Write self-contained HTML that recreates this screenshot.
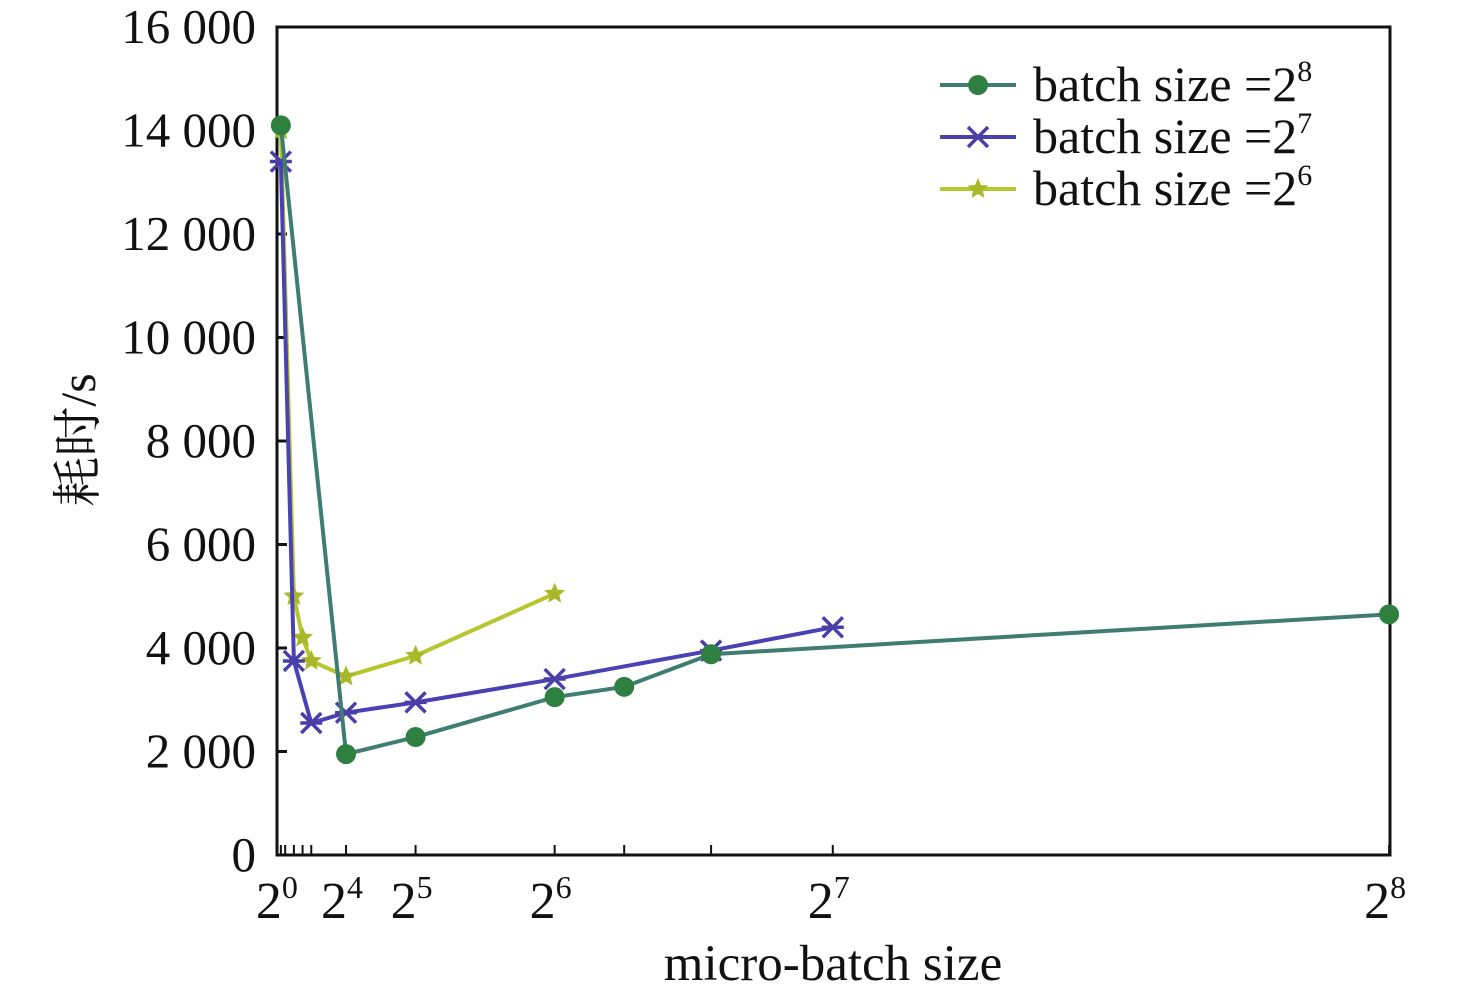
<!DOCTYPE html>
<html><head><meta charset="utf-8"><style>
body{margin:0;background:#fff;}
svg text{font-family:"Liberation Serif","Noto Serif CJK SC",serif;fill:#111;}
</style></head><body>
<svg id="c" width="1476" height="999" xmlns="http://www.w3.org/2000/svg"></svg>
<script>
const xTicks=[1,2,4,6,8,16,32,64,80,100,128,256];
const xLabelVals=[1,16,32,64,128,256];
const xLabelExp=[0,4,5,6,7,8];
const yTicks=[0,2000,4000,6000,8000,10000,12000,14000,16000];
const yTickLabels=["0","2 000","4 000","6 000","8 000","10 000","12 000","14 000","16 000"];
const x256=[1,16,32,64,80,100,256];
const y256=[14100,1950,2280,3050,3250,3880,4650];
const x128=[1,4,8,16,32,64,100,128];
const y128=[13400,3750,2550,2750,2950,3400,3950,4400];
const x64=[1,4,6,8,16,32,64];
const y64=[14000,5000,4200,3750,3450,3850,5050];

const L=277,R=1390,T=27,B=855;
const sx=v=>276.5+v*4.346;
const sy=v=>B-(v/16000)*(B-T);
const svg=document.getElementById('c');
const NS='http://www.w3.org/2000/svg';
function mk(tag,attrs,parent){const e=document.createElementNS(NS,tag);for(const k in attrs)e.setAttribute(k,attrs[k]);(parent||svg).appendChild(e);return e;}

const frame=mk('rect',{x:L,y:T,width:R-L,height:B-T,fill:'none',stroke:'#111','stroke-width':3});



yTicks.forEach((v,i)=>{
  const t=mk('line',{x1:L,x2:L+10,y1:sy(v),y2:sy(v),stroke:'#111','stroke-width':3});
  
  
  const tx=mk('text',{x:256,y:sy(v)+16,'text-anchor':'end','font-size':49});
  tx.textContent=yTickLabels[i];
  
  
});
xTicks.forEach(v=>{
  const t=mk('line',{x1:sx(v),x2:sx(v),y1:B,y2:B-10,stroke:'#111','stroke-width':2});
  
  
});
xLabelVals.forEach((v,i)=>{
  const tx=mk('text',{x:sx(v)-4,y:918,'text-anchor':'middle','font-size':52});
  tx.textContent='2';
  const s=mk('tspan',{dy:-20,'font-size':32},tx);
  s.textContent=xLabelExp[i];
  
  
});
const xt=mk('text',{x:833,y:980,'text-anchor':'middle','font-size':51});
xt.textContent='micro-batch size';


const yt=mk('text',{x:0,y:0,'text-anchor':'middle','font-size':50,transform:'translate(95,440) rotate(-90)'});
yt.textContent='耗时/s';



function marker(type,x,y,col,g){
  if(type==='circle'){return mk('circle',{cx:x,cy:y,r:10,fill:'#2e8040'},g);}
  if(type==='x'){const p=mk('path',{d:`M${x-10},${y-10}L${x+10},${y+10}M${x-10},${y+10}L${x+10},${y-10}M${x-11},${y}L${x+11},${y}`,stroke:'#4a3fa8','stroke-width':3.5,fill:'none'},g);return p;}
  const pts=[];for(let k=0;k<10;k++){const r=k%2?5:11,a=-Math.PI/2+k*Math.PI/5;pts.push((x+r*Math.cos(a)).toFixed(1)+','+(y+r*Math.sin(a)).toFixed(1));}
  return mk('polygon',{points:pts.join(' '),fill:'#a8b828'},g);
}
function series(xs,ys,col,type,name){
  const g=mk('g',{});
  
  
  mk('polyline',{points:xs.map((v,i)=>sx(v)+','+sy(ys[i])).join(' '),fill:'none',stroke:col,'stroke-width':4},g);
  xs.forEach((v,i)=>{const m=marker(type,sx(v),sy(ys[i]),col,g);
    
    });
}
series(x64,y64,'#b6c62e','star','series-batch-64');
series(x128,y128,'#4a42b4','x','series-batch-128');
series(x256,y256,'#3f7d70','circle','series-batch-256');

const leg=[['#3f7d70','circle','8'],['#4a42b4','x','7'],['#b6c62e','star','6']];
leg.forEach((l,i)=>{
  const y=85+i*52;
  const g=mk('g',{});
  
  
  mk('line',{x1:940,x2:1016,y1:y,y2:y,stroke:l[0],'stroke-width':4},g);
  marker(l[1],978,y,l[0],g);
  const t=mk('text',{x:1033,y:y+16,'font-size':50},g);
  t.textContent='batch size =2';
  const s=mk('tspan',{dy:-20,'font-size':30},t);s.textContent=l[2];
});
</script>
</body></html>
